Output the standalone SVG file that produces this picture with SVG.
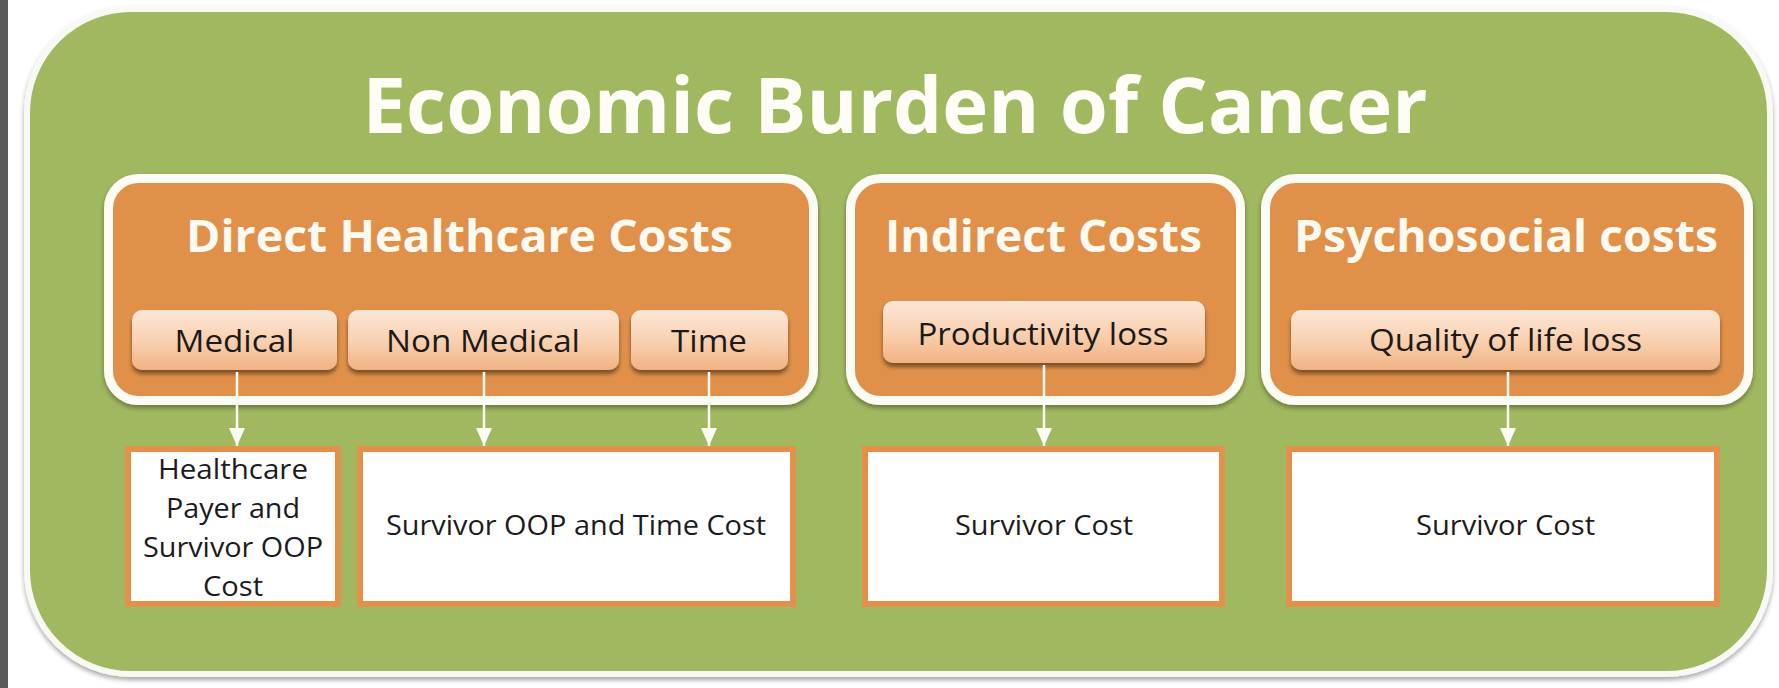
<svg xmlns="http://www.w3.org/2000/svg" width="1779" height="688" viewBox="0 0 1779 688">
  <defs>
    <linearGradient id="subGrad" x1="0" y1="0" x2="0" y2="1">
      <stop offset="0" stop-color="#fce6d6"/>
      <stop offset="0.55" stop-color="#f8cfae"/>
      <stop offset="1" stop-color="#f1b283"/>
    </linearGradient>
    <filter id="softShadow" x="-5%" y="-5%" width="110%" height="115%">
      <feGaussianBlur in="SourceAlpha" stdDeviation="2.5"/>
      <feOffset dx="0" dy="3" result="b"/>
      <feComponentTransfer><feFuncA type="linear" slope="0.35"/></feComponentTransfer>
      <feMerge><feMergeNode/><feMergeNode in="SourceGraphic"/></feMerge>
    </filter>
    <filter id="subShadow" x="-5%" y="-10%" width="110%" height="130%">
      <feGaussianBlur in="SourceAlpha" stdDeviation="2"/>
      <feOffset dx="0" dy="4" result="b"/>
      <feComponentTransfer><feFuncA type="linear" slope="0.45"/></feComponentTransfer>
      <feMerge><feMergeNode/><feMergeNode in="SourceGraphic"/></feMerge>
    </filter>
    <marker id="arrowHead" markerWidth="18" markerHeight="16" refX="18" refY="8" orient="auto" markerUnits="userSpaceOnUse" viewBox="0 0 18 16">
      <polygon points="0,0 18,8 0,16" fill="#fbfbf3"/>
    </marker>
  </defs>
  <style>
    .title { font-family: "Open Sans", "Liberation Sans", sans-serif; font-weight: 700; fill: #fdfdf6; }
    .head { font-family: "Open Sans", "Liberation Sans", sans-serif; font-weight: 700; fill: #fdfaf2; font-size: 45px; }
    .sub { font-family: "Open Sans", "Liberation Sans", sans-serif; font-weight: 400; fill: #1c1a18; font-size: 31px; }
    .lbl { font-family: "Open Sans", "Liberation Sans", sans-serif; font-weight: 400; fill: #1c1c1c; font-size: 28px; }
    .cat { fill: #e0904a; stroke: #fdfcf4; stroke-width: 9; }
    .subbox { fill: url(#subGrad); }
    .out { fill: #ffffff; stroke: #e3904b; stroke-width: 6; }
    .conn { stroke: #fbfbf3; stroke-width: 2.5; fill: none; }
  </style>

  <rect x="0" y="0" width="1779" height="688" fill="#ffffff"/>
  <rect x="0" y="0" width="8" height="688" fill="#5a5a5a"/>

  <g id="background">
    <rect x="27" y="9" width="1743" height="665" rx="104" fill="#a0b860" stroke="#f9f9f3" stroke-width="6" filter="url(#softShadow)"/>
    <text class="title" x="895" y="133" font-size="77" text-anchor="middle" textLength="1065" lengthAdjust="spacingAndGlyphs">Economic Burden of Cancer</text>
  </g>

  <g id="direct">
    <rect class="cat" x="108.5" y="178.5" width="705" height="222" rx="30" filter="url(#softShadow)"/>
    <text class="head" x="459.5" y="252" text-anchor="middle" textLength="547" lengthAdjust="spacingAndGlyphs">Direct Healthcare Costs</text>
  </g>
  <g id="medical">
    <rect class="subbox" x="132" y="310" width="205" height="60" rx="10" filter="url(#subShadow)"/>
    <text class="sub" x="234.5" y="352" text-anchor="middle" textLength="120" lengthAdjust="spacingAndGlyphs">Medical</text>
  </g>
  <g id="nonmedical">
    <rect class="subbox" x="348" y="310" width="271" height="60" rx="10" filter="url(#subShadow)"/>
    <text class="sub" x="483" y="352" text-anchor="middle" textLength="194" lengthAdjust="spacingAndGlyphs">Non Medical</text>
  </g>
  <g id="time">
    <rect class="subbox" x="631" y="310" width="157" height="60" rx="10" filter="url(#subShadow)"/>
    <text class="sub" x="709" y="352" text-anchor="middle" textLength="76" lengthAdjust="spacingAndGlyphs">Time</text>
  </g>

  <g id="indirect">
    <rect class="cat" x="850.5" y="178.5" width="390" height="222" rx="30" filter="url(#softShadow)"/>
    <text class="head" x="1043.5" y="252" text-anchor="middle" textLength="317" lengthAdjust="spacingAndGlyphs">Indirect Costs</text>
  </g>
  <g id="productivity">
    <rect class="subbox" x="883" y="301" width="322" height="62" rx="10" filter="url(#subShadow)"/>
    <text class="sub" x="1043" y="345" text-anchor="middle" textLength="251" lengthAdjust="spacingAndGlyphs">Productivity loss</text>
  </g>

  <g id="psychosocial">
    <rect class="cat" x="1265.5" y="178.5" width="483" height="222" rx="30" filter="url(#softShadow)"/>
    <text class="head" x="1506" y="252" text-anchor="middle" textLength="424" lengthAdjust="spacingAndGlyphs">Psychosocial costs</text>
  </g>
  <g id="quality">
    <rect class="subbox" x="1291" y="310" width="429" height="60" rx="10" filter="url(#subShadow)"/>
    <text class="sub" x="1505.5" y="351" text-anchor="middle" textLength="273" lengthAdjust="spacingAndGlyphs">Quality of life loss</text>
  </g>

  <g id="cost-medical">
    <rect class="out" x="128" y="449" width="210" height="155"/>
    <text class="lbl" x="233" y="479" text-anchor="middle" textLength="150" lengthAdjust="spacingAndGlyphs">Healthcare</text>
    <text class="lbl" x="233" y="518" text-anchor="middle" textLength="134" lengthAdjust="spacingAndGlyphs">Payer and</text>
    <text class="lbl" x="233" y="557" text-anchor="middle" textLength="180" lengthAdjust="spacingAndGlyphs">Survivor OOP</text>
    <text class="lbl" x="233" y="596" text-anchor="middle" textLength="60" lengthAdjust="spacingAndGlyphs">Cost</text>
  </g>
  <g id="cost-oop-time">
    <rect class="out" x="360" y="449" width="433" height="155"/>
    <text class="lbl" x="576" y="535" text-anchor="middle" textLength="380" lengthAdjust="spacingAndGlyphs">Survivor OOP and Time Cost</text>
  </g>
  <g id="cost-indirect">
    <rect class="out" x="865" y="449" width="357" height="155"/>
    <text class="lbl" x="1044" y="535" text-anchor="middle" textLength="178" lengthAdjust="spacingAndGlyphs">Survivor Cost</text>
  </g>
  <g id="cost-psychosocial">
    <rect class="out" x="1289" y="449" width="428" height="155"/>
    <text class="lbl" x="1505.5" y="535" text-anchor="middle" textLength="179" lengthAdjust="spacingAndGlyphs">Survivor Cost</text>
  </g>

  <g id="connectors">
    <line class="conn" x1="237" y1="372" x2="237" y2="446" marker-end="url(#arrowHead)"/>
    <line class="conn" x1="484" y1="372" x2="484" y2="446" marker-end="url(#arrowHead)"/>
    <line class="conn" x1="709" y1="372" x2="709" y2="446" marker-end="url(#arrowHead)"/>
    <line class="conn" x1="1044" y1="365" x2="1044" y2="446" marker-end="url(#arrowHead)"/>
    <line class="conn" x1="1508" y1="372" x2="1508" y2="446" marker-end="url(#arrowHead)"/>
  </g>
</svg>
